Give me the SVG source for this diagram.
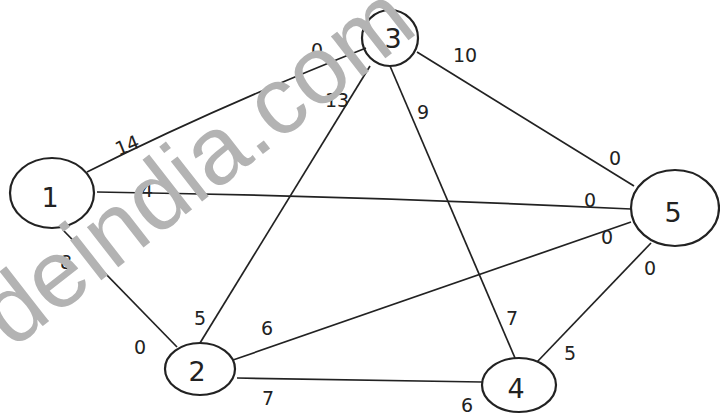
<svg xmlns="http://www.w3.org/2000/svg" width="720" height="417" viewBox="0 0 720 417">
<style>
.node{fill:none;stroke:#222;stroke-width:2.2}
.edge{fill:none;stroke:#222;stroke-width:1.7}
.lbl{font-family:"DejaVu Sans","Liberation Sans",sans-serif;font-size:19px;fill:#222;text-anchor:middle;dominant-baseline:central}
.nlbl{font-family:"DejaVu Sans","Liberation Sans",sans-serif;font-size:27px;fill:#222;text-anchor:middle;dominant-baseline:central}
.wm{font-family:"Liberation Sans",Arial,sans-serif;font-size:96px;fill:#b3b3b3}
</style>
<rect width="720" height="417" fill="#ffffff"/>
<g id="edges">
<path class="edge" d="M87,172 Q210,110 366,48"/>
<path class="edge" d="M97,192 Q360,196 631,209"/>
<path class="edge" d="M63,230 L177,347"/>
<path class="edge" d="M200,343 L370,66"/>
<path class="edge" d="M390,66 L515,358"/>
<path class="edge" d="M417,52 L634,186"/>
<path class="edge" d="M233,360 L631,222"/>
<path class="edge" d="M237,378 L482,382"/>
<path class="edge" d="M537,362 L651,243"/>
</g>
<g id="edge-labels">
<text class="lbl" x="127" y="145" transform="rotate(-22 127 145)">14</text>
<text class="lbl" x="317" y="50">0</text>
<text class="lbl" x="147" y="190">4</text>
<text class="lbl" x="590" y="200">0</text>
<text class="lbl" x="66" y="262">8</text>
<text class="lbl" x="140" y="347">0</text>
<text class="lbl" x="337" y="100">13</text>
<text class="lbl" x="200" y="318">5</text>
<text class="lbl" x="423" y="112">9</text>
<text class="lbl" x="512" y="318">7</text>
<text class="lbl" x="465" y="55">10</text>
<text class="lbl" x="615" y="158">0</text>
<text class="lbl" x="267" y="328">6</text>
<text class="lbl" x="607" y="237">0</text>
<text class="lbl" x="268" y="398">7</text>
<text class="lbl" x="467" y="405">6</text>
<text class="lbl" x="570" y="353">5</text>
<text class="lbl" x="650" y="268">0</text>
</g>
<g id="node1"><ellipse class="node" cx="52" cy="193" rx="42" ry="35"/><text class="nlbl" x="50" y="197">1</text></g>
<g id="node2"><ellipse class="node" cx="200" cy="369" rx="35" ry="26"/><text class="nlbl" x="197" y="371">2</text></g>
<g id="node3"><ellipse class="node" cx="390" cy="38" rx="28" ry="28"/><text class="nlbl" x="393" y="38">3</text></g>
<g id="node4"><ellipse class="node" cx="519" cy="385" rx="37" ry="27"/><text class="nlbl" x="516" y="388">4</text></g>
<g id="node5"><ellipse class="node" cx="675" cy="208" rx="44" ry="38"/><text class="nlbl" x="673" y="212">5</text></g>
<text class="wm" x="12" y="350" transform="rotate(-38 12 350)">deindia.com</text>
</svg>
